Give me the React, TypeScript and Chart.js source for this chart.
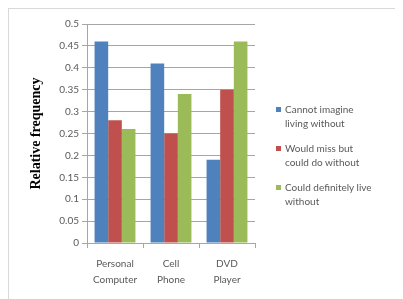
import React, { useEffect, useRef } from "react";
import { Chart, registerables } from "chart.js";

Chart.register(...registerables);

const categories: string[][] = [["Personal", "Computer"], ["Cell", "Phone"], ["DVD", "Player"]];
const seriesNames: string[] = ["Cannot imagine living without", "Would miss but could do without", "Could definitely live without"];
const legendLines: string[][] = [["Cannot imagine", "living without"], ["Would miss but", "could do without"], ["Could definitely live", "without"]];
const cannotImagine: number[] = [0.46, 0.41, 0.19];
const wouldMiss: number[] = [0.28, 0.25, 0.35];
const couldLive: number[] = [0.26, 0.34, 0.46];
const colors: string[] = ["#4F81BD", "#C0504D", "#9BBB59"];
const yTitle = "Relative frequency";

const W = 386;
const H = 292;

export default function App() {
  const ref = useRef<HTMLCanvasElement | null>(null);
  useEffect(() => {
    if (!ref.current) return;
    const values = [cannotImagine, wouldMiss, couldLive];
    const chart = new Chart(ref.current, {
      type: "bar",
      data: {
        labels: categories,
        datasets: values.map((v, i) => ({
          label: seriesNames[i],
          data: v,
          backgroundColor: colors[i],
          borderWidth: 0,
          categoryPercentage: 0.73,
          barPercentage: 1.0,
        })),
      },
      options: {
        responsive: false,
        animation: false,
        layout: { padding: { left: 0, right: 140, top: 15, bottom: 0 } },
        plugins: { legend: { display: false }, tooltip: { enabled: false } },
        scales: {
          x: {
            grid: { display: true, drawOnChartArea: false, color: "#a6a6a6", tickLength: 5, offset: true },
            border: { display: true, color: "#a6a6a6" },
            ticks: { color: "#595959", font: { family: "Lato", size: 10, lineHeight: 1.6 }, padding: 8, maxRotation: 0 },
            afterFit: (s: any) => { s.height = H - 234; },
          },
          y: {
            min: 0,
            max: 0.5,
            ticks: { stepSize: 0.05, color: "#595959", font: { family: "Lato", size: 10 }, padding: 3,
              callback: (v: any) => String(Math.round(Number(v) * 100) / 100) },
            grid: { color: "#a6a6a6", tickLength: 5 },
            border: { display: true, color: "#a6a6a6" },
            title: { display: true, text: yTitle, color: "#000", font: { family: "Liberation Serif", size: 14, weight: "bold" }, padding: { top: 19, bottom: 0 } },
            afterFit: (s: any) => { s.width = 78; },
          },
        },
      },
    });
    return () => chart.destroy();
  }, []);

  const tops = [94, 133, 172];
  return (
    <div style={{ position: "relative", width: W, height: H, border: "1px solid #d9d9d9", background: "#fff" }}>
      <canvas ref={ref} width={W} height={H} style={{ display: "block" }} />
      {legendLines.map((lines, i) => (
        <div key={i} style={{ position: "absolute", left: 267, top: tops[i], fontFamily: "Lato", fontSize: 10, lineHeight: "13.5px", color: "#595959" }}>
          <span style={{ position: "absolute", left: 0, top: 4, width: 5, height: 5, background: colors[i] }} />
          <div style={{ marginLeft: 9, whiteSpace: "nowrap" }}>
            {lines.map((l, j) => (<div key={j}>{l}</div>))}
          </div>
        </div>
      ))}
    </div>
  );
}
